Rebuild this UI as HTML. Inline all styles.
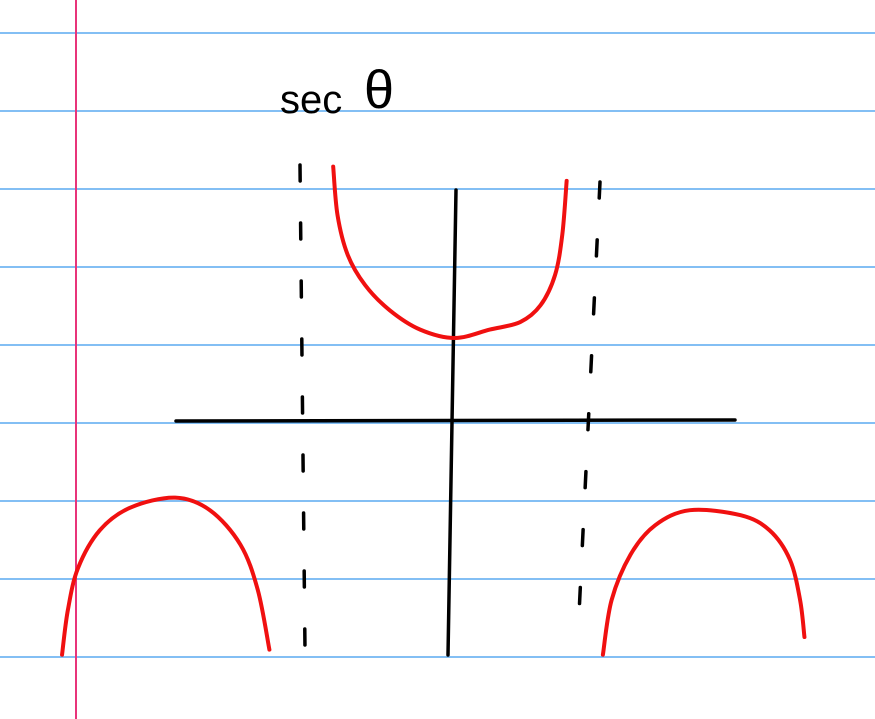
<!DOCTYPE html>
<html><head><meta charset="utf-8"><style>
html,body{margin:0;padding:0;background:#fff;}
svg{display:block;}
</style></head><body>
<svg id="chart" width="875" height="719" viewBox="0 0 875 719" xmlns="http://www.w3.org/2000/svg">
<g id="paper"></g>
<line x1="76" y1="0" x2="76" y2="719" stroke="#e8347a" stroke-width="2"/>
<g id="asym"></g>
<line x1="176" y1="421" x2="735" y2="420" stroke="#000" stroke-width="3.5" stroke-linecap="round"/>
<line x1="456" y1="190" x2="448" y2="655" stroke="#000" stroke-width="3.5" stroke-linecap="round"/>
<g id="curves"></g>
<text x="280" y="113" font-family="Liberation Sans, sans-serif" font-size="40" fill="#000">sec</text>
<text x="364" y="108" font-family="Liberation Sans, sans-serif" font-size="54" fill="#000">θ</text>
</svg>
<script>
// theta in units of pi/2, value = sec(theta) as drawn
const topTheta = [-0.84,-0.81,-0.74,-0.62,-0.45,-0.24,0,0.24,0.45,0.59,0.69,0.74,0.77];
const topValue = [3.04,2.46,1.99,1.63,1.33,1.10,1.0,1.10,1.19,1.39,1.75,2.23,2.87];
const leftTheta = [-2.71,-2.67,-2.60,-2.45,-2.24,-1.93,-1.69,-1.48,-1.36,-1.28];
const leftValue = [-2.77,-2.24,-1.74,-1.29,-1.02,-0.90,-1.05,-1.46,-2.0,-2.71];
const rightTheta = [1.02,1.08,1.21,1.38,1.62,1.97,2.17,2.31,2.38,2.41];
const rightValue = [-2.77,-2.12,-1.58,-1.23,-1.05,-1.11,-1.29,-1.64,-2.12,-2.56];
const asymptoteTheta = [-1, 1];

const NS = "http://www.w3.org/2000/svg";
const xs = t => 455 + t * 145;
const ys = v => 422 - v * 84;

const paper = document.getElementById('paper');
for (let i = 0; i < 9; i++) {
  const l = document.createElementNS(NS, 'line');
  const y = 33 + i * 78;
  l.setAttribute('x1', 0); l.setAttribute('x2', 875);
  l.setAttribute('y1', y); l.setAttribute('y2', y);
  l.setAttribute('stroke', '#5aaaf0'); l.setAttribute('stroke-width', '1.5');
  
  
  paper.appendChild(l);
}

const asym = document.getElementById('asym');
asymptoteTheta.forEach((t, i) => {
  const l = document.createElementNS(NS, 'line');
  const x = xs(t);
  l.setAttribute('x1', i === 0 ? x - 10 : x);
  l.setAttribute('y1', i === 0 ? 165 : 182);
  l.setAttribute('x2', i === 0 ? x - 5 : x - 22);
  l.setAttribute('y2', i === 0 ? 650 : 635);
  l.setAttribute('stroke', '#000'); l.setAttribute('stroke-width', '3.5');
  l.setAttribute('stroke-dasharray', '16 42');
  l.setAttribute('stroke-linecap', 'round');
  
  
  asym.appendChild(l);
});

const curves = document.getElementById('curves');
function draw(ts, vs, name) {
  const p = document.createElementNS(NS, 'path');
  const pts = ts.map((t, i) => [xs(t), ys(vs[i])]);
  let d = 'M' + pts[0][0] + ',' + pts[0][1];
  for (let i = 1; i < pts.length; i++) {
    const p0 = pts[i - 2] || pts[i - 1], p1 = pts[i - 1], p2 = pts[i], p3 = pts[i + 1] || pts[i];
    const c1x = p1[0] + (p2[0] - p0[0]) / 6, c1y = p1[1] + (p2[1] - p0[1]) / 6;
    const c2x = p2[0] - (p3[0] - p1[0]) / 6, c2y = p2[1] - (p3[1] - p1[1]) / 6;
    d += ` C${c1x},${c1y} ${c2x},${c2y} ${p2[0]},${p2[1]}`;
  }
  p.setAttribute('d', d);
  p.setAttribute('fill', 'none'); p.setAttribute('stroke', '#f01010');
  p.setAttribute('stroke-width', '4'); p.setAttribute('stroke-linecap', 'round');
  p.setAttribute('stroke-linejoin', 'round');
  
  
  curves.appendChild(p);
}
draw(topTheta, topValue, 'sec-branch-upper');
draw(leftTheta, leftValue, 'sec-branch-lower-left');
draw(rightTheta, rightValue, 'sec-branch-lower-right');
</script>
</body></html>
